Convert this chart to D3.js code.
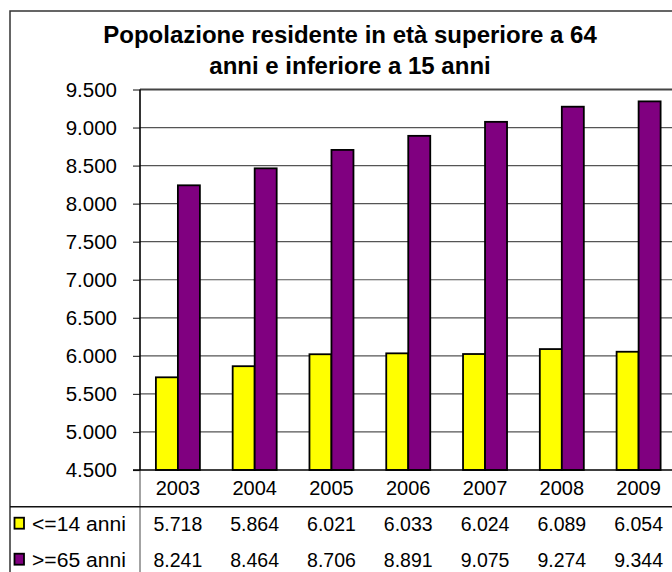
<!DOCTYPE html>
<html>
<head>
<meta charset="utf-8">
<script src="https://cdn.jsdelivr.net/npm/d3@7"></script>
<style>
  html, body { margin: 0; padding: 0; background: #fff; }
  svg { display: block; font-family: "Liberation Sans", Arial, sans-serif; }
</style>
</head>
<body>
<svg id="chart" width="672" height="572"></svg>
<script>
const years = ["2003", "2004", "2005", "2006", "2007", "2008", "2009"];
const under14 = [5718, 5864, 6021, 6033, 6024, 6089, 6054];
const over65 = [8241, 8464, 8706, 8891, 9075, 9274, 9344];
const seriesNames = ["<=14 anni", ">=65 anni"];
const seriesColors = ["#FFFF00", "#800080"];
const yTicks = [4500, 5000, 5500, 6000, 6500, 7000, 7500, 8000, 8500, 9000, 9500];
const titleLines = ["Popolazione residente in età superiore a 64", "anni e inferiore a 15 anni"];

const locale = d3.formatLocale({decimal: ",", thousands: ".", grouping: [3], currency: ["€", ""]});
const fmt = locale.format(",.0f");

const svg = d3.select("#chart");
const plotLeft = 140, plotRight = 677, plotTop = 89.5, plotBottom = 470;

const x = d3.scaleBand().domain(years).range([plotLeft - 0.5, plotRight]).paddingInner(0.427).paddingOuter(0.2135);
const xs = d3.scaleBand().domain([0, 1]).range([0, x.bandwidth()]);
const y = d3.scaleLinear().domain([4500, 9500]).range([plotBottom, plotTop]);

// outer frame
svg.append("rect").attr("x", 10).attr("y", 11).attr("width", 700).attr("height", 600)
  .attr("fill", "none").attr("stroke", "#333").attr("stroke-width", 1.5);

// title
svg.append("g").selectAll("text").data(titleLines).join("text")
  .attr("x", 350).attr("y", (d, i) => 42.5 + i * 31.6)
  .attr("text-anchor", "middle").attr("font-weight", "bold").attr("font-size", 24)
  .attr("fill", "#000").text(d => d);

// gridlines
svg.append("g").selectAll("line").data(yTicks.filter(t => t > 4500 && t < 9500)).join("line")
  .attr("x1", plotLeft).attr("x2", 680).attr("y1", d => y(d)).attr("y2", d => y(d))
  .attr("stroke", "#555").attr("stroke-width", 1.2);

// plot top border
svg.append("line").attr("x1", plotLeft).attr("x2", 680).attr("y1", y(9500)).attr("y2", y(9500))
  .attr("stroke", "#444").attr("stroke-width", 2.2);

// bars
const series = [under14, over65];
series.forEach((vals, si) => {
  svg.append("g").selectAll("rect").data(years).join("rect")
    .attr("x", d => x(d) + xs(si))
    .attr("y", (d, i) => y(vals[i]))
    .attr("width", xs.bandwidth())
    .attr("height", (d, i) => y(4500) - y(vals[i]))
    .attr("fill", seriesColors[si]).attr("stroke", "#000").attr("stroke-width", 1.8);
});

// y axis
const yAxis = d3.axisLeft(y).tickValues(yTicks).tickFormat(fmt).tickSize(7).tickPadding(16);
const gy = svg.append("g").attr("transform", `translate(${plotLeft},0)`).call(yAxis);
gy.select(".domain").remove();
gy.selectAll(".tick line").attr("stroke", "#333").attr("stroke-width", 1.2);
gy.selectAll(".tick text").attr("font-size", 20.5).attr("fill", "#000").attr("font-family", "Liberation Sans, Arial, sans-serif");

// axis lines
svg.append("line").attr("x1", plotLeft).attr("x2", plotLeft).attr("y1", plotTop).attr("y2", plotBottom)
  .attr("stroke", "#000").attr("stroke-width", 1.6);
svg.append("line").attr("x1", plotLeft).attr("x2", plotLeft).attr("y1", plotBottom).attr("y2", 572)
  .attr("stroke", "#666").attr("stroke-width", 1.2);
svg.append("line").attr("x1", 133).attr("x2", 680).attr("y1", plotBottom).attr("y2", plotBottom)
  .attr("stroke", "#000").attr("stroke-width", 1.6);

// table separator
svg.append("line").attr("x1", 10).attr("x2", 680).attr("y1", 506.7).attr("y2", 506.7)
  .attr("stroke", "#111").attr("stroke-width", 1.4);

// x axis labels (years)
svg.append("g").selectAll("text").data(years).join("text")
  .attr("x", d => x(d) + x.bandwidth() / 2).attr("y", 495)
  .attr("text-anchor", "middle").attr("font-size", 20).attr("fill", "#000").text(d => d);

// data table rows
const rowY = [530.7, 566.7];
series.forEach((vals, si) => {
  svg.append("g").selectAll("text").data(years).join("text")
    .attr("x", d => x(d) + x.bandwidth() / 2).attr("y", rowY[si])
    .attr("text-anchor", "middle").attr("font-size", 19.5).attr("fill", "#000")
    .text((d, i) => fmt(vals[i]));
  svg.append("rect").attr("x", 14.5).attr("y", rowY[si] - 13).attr("width", 9.5).attr("height", 11)
    .attr("fill", seriesColors[si]).attr("stroke", "#000").attr("stroke-width", 1.8);
  svg.append("text").attr("x", 32).attr("y", rowY[si]).attr("font-size", 20.5).attr("fill", "#000")
    .attr("textLength", 94).attr("lengthAdjust", "spacingAndGlyphs")
    .text(seriesNames[si]);
});
</script>
</body>
</html>
